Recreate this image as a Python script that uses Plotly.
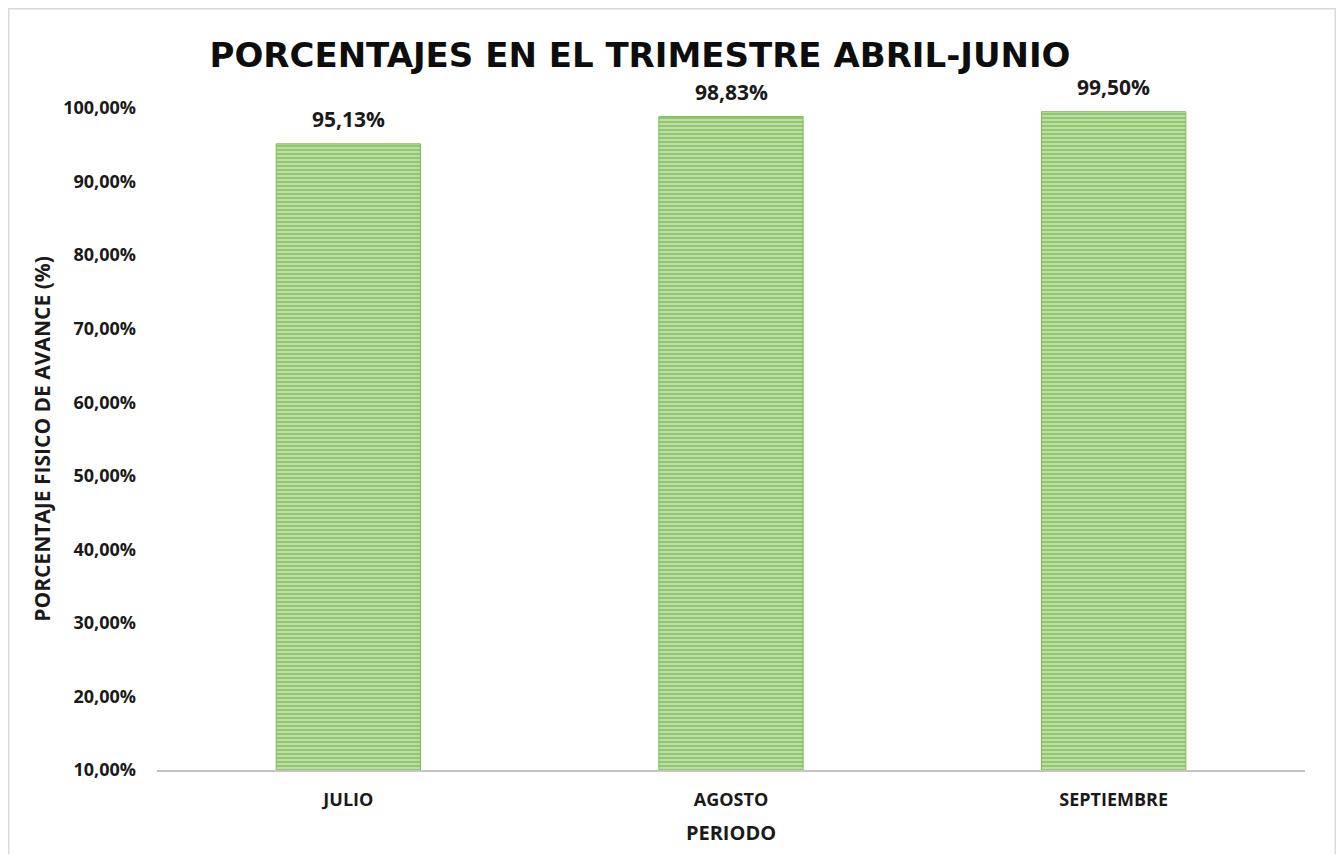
import plotly.graph_objects as go

categories = ["JULIO", "AGOSTO", "SEPTIEMBRE"]
values = [0.9513, 0.9883, 0.9950]
title_text = "PORCENTAJES EN EL TRIMESTRE ABRIL-JUNIO"
y_title = "PORCENTAJE FISICO DE AVANCE (%)"
x_title = "PERIODO"

labels = [f"{v*100:.2f}%".replace(".", ",") for v in values]

FONT = "Open Sans"
TXT = "#1a1a1a"

fig = go.Figure(go.Bar(
    x=categories, y=values,
    marker=dict(
        color="#8CC665",
        line=dict(color="#7DBD52", width=1),
        pattern=dict(shape="-", fgcolor="#68B03A", bgcolor="#BCDDA5", size=4, solidity=0.5, fillmode="overlay"),
    ),
    width=0.377,
    hoverinfo="x+y",
))

for c, v, t in zip(categories, values, labels):
    fig.add_annotation(
        x=c, y=v, text=t, showarrow=False, yanchor="bottom", yshift=9,
        font=dict(family=FONT, size=21, color=TXT, weight="bold"),
    )

# page body has an 8px margin; figure sized to fit inside the window
W, H = 1328, 846
L, R, T, B = 149, 31, 100, 84
pw, ph = W - L - R, H - T - B

def px(x):
    return (x - L) / pw

def py(y):
    return (H - B - y) / ph

fig.update_layout(
    width=W, height=H,
    margin=dict(l=L, r=R, t=T, b=B),
    paper_bgcolor="white", plot_bgcolor="white",
    separators=",.",
    showlegend=False,
    font=dict(family=FONT, color=TXT),
    title=dict(
        text=title_text,
        x=632 / W, xref="container", xanchor="center",
        y=(H - 47) / H, yref="container", yanchor="middle",
        font=dict(family="DejaVu Sans", size=34, color="#0d0d0d", weight="bold"),
    ),
    xaxis=dict(
        showgrid=False, showline=True, linecolor="#C4C4C4", linewidth=2,
        ticks="", ticklabelstandoff=12,
        tickfont=dict(family=FONT, size=18, weight="bold", color=TXT),
        title=dict(text=x_title, font=dict(family=FONT, size=20, weight="bold", color=TXT), standoff=16),
    ),
    yaxis=dict(
        range=[0.1, 1.0], dtick=0.1, tick0=0.1, tickformat=".2%",
        showgrid=False, showline=False, zeroline=False, ticks="",
        ticklabelstandoff=20,
        tickfont=dict(family=FONT, size=18, weight="bold", color=TXT),
        title=dict(text=y_title, font=dict(family=FONT, size=21, weight="bold", color=TXT), standoff=6),
    ),
    shapes=[dict(
        type="rect", xref="paper", yref="paper",
        x0=px(0.5), x1=px(W - 0.5), y0=py(H + 20), y1=py(0.5),
        line=dict(color="#D9D9D9", width=2), fillcolor="rgba(0,0,0,0)", layer="below",
    )],
)

fig.write_html("out.html")
